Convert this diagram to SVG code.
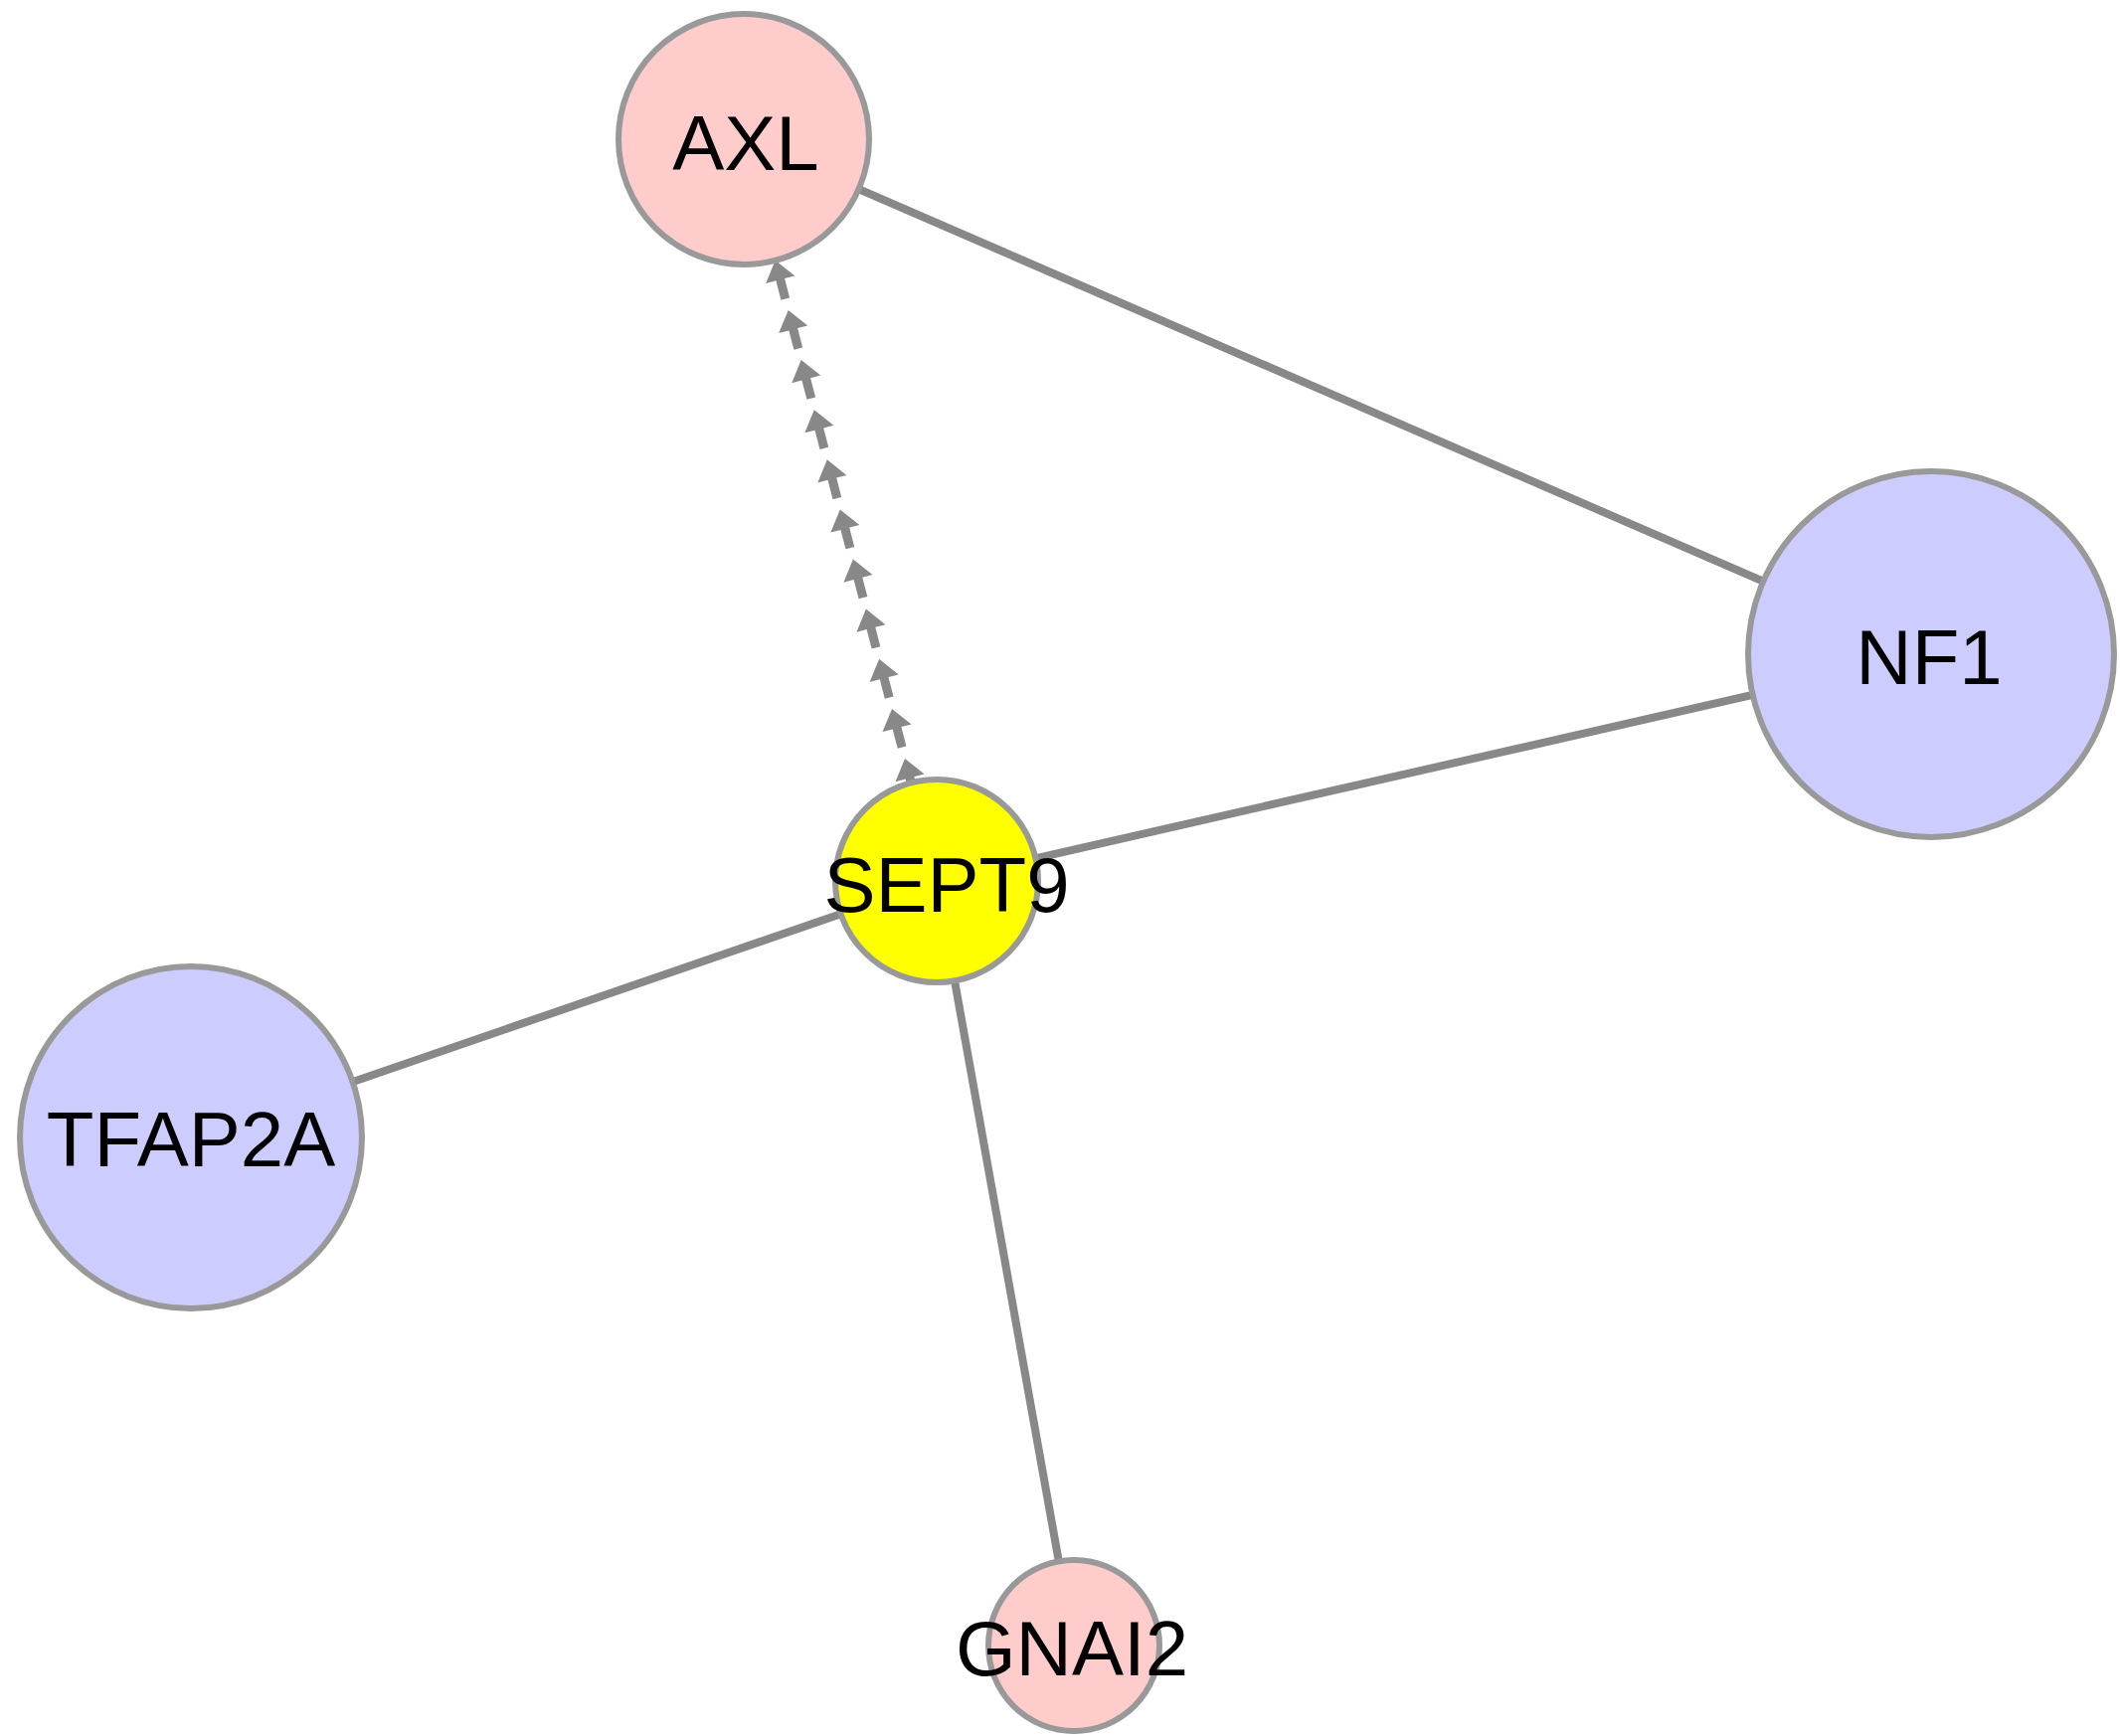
<svg xmlns="http://www.w3.org/2000/svg" xmlns:xlink="http://www.w3.org/1999/xlink" width="2132" height="1746" viewBox="0 0 2132 1746">
  <style>
    .edge { stroke: #888888; stroke-width: 8; fill: none; }
    .node circle { stroke: #999999; stroke-width: 6; }
    .red { fill: #FFCCCC; }
    .blue { fill: #CCCCFF; }
    .yellow { fill: #FFFF00; }
    .label { font-family: "Liberation Sans", Arial, Helvetica, sans-serif; font-size: 78px; fill: #000000; text-anchor: middle; }
    .arrowunit { fill: #888888; }
  </style>
  <defs>
    <path id="unit" class="arrowunit" d="M0,0 L15,20 L4.5,20 L4.5,40 L-4.5,40 L-4.5,20 L-15,20 Z"/>
  </defs>
  <rect x="0" y="0" width="2132" height="1746" fill="#FFFFFF"/>
  <g id="edges">
    <line class="edge" x1="748" y1="140" x2="1942" y2="658"/>
    <line class="edge" x1="942" y1="886" x2="1942" y2="658"/>
    <line class="edge" x1="942" y1="886" x2="192" y2="1144"/>
    <line class="edge" x1="942" y1="886" x2="1080" y2="1655"/>
    <g id="edge-SEPT9-AXL">
      <use xlink:href="#unit" transform="translate(910,763) rotate(-14.57)"/>
      <use xlink:href="#unit" transform="translate(897,712.9) rotate(-14.57)"/>
      <use xlink:href="#unit" transform="translate(884.1,662.8) rotate(-14.57)"/>
      <use xlink:href="#unit" transform="translate(870.9,612.6) rotate(-14.57)"/>
      <use xlink:href="#unit" transform="translate(857.9,562.5) rotate(-14.57)"/>
      <use xlink:href="#unit" transform="translate(844.8,512.4) rotate(-14.57)"/>
      <use xlink:href="#unit" transform="translate(831.8,462.3) rotate(-14.57)"/>
      <use xlink:href="#unit" transform="translate(818.8,412.2) rotate(-14.57)"/>
      <use xlink:href="#unit" transform="translate(805.7,362.0) rotate(-14.57)"/>
      <use xlink:href="#unit" transform="translate(792.7,311.9) rotate(-14.57)"/>
      <use xlink:href="#unit" transform="translate(779.7,261.8) rotate(-14.57)"/>
    </g>
  </g>
  <g id="node-AXL" class="node">
    <circle class="red" cx="748" cy="140" r="126"/>
    <text class="label" x="750" y="171">AXL</text>
  </g>
  <g id="node-NF1" class="node">
    <circle class="blue" cx="1942" cy="658" r="184"/>
    <text class="label" x="1940" y="688">NF1</text>
  </g>
  <g id="node-SEPT9" class="node">
    <circle class="yellow" cx="942" cy="886" r="102"/>
    <text class="label" x="952" y="917">SEPT9</text>
  </g>
  <g id="node-TFAP2A" class="node">
    <circle class="blue" cx="192" cy="1144" r="172"/>
    <text class="label" x="192" y="1173">TFAP2A</text>
  </g>
  <g id="node-GNAI2" class="node">
    <circle class="red" cx="1080" cy="1655" r="86"/>
    <text class="label" x="1078" y="1685">GNAI2</text>
  </g>
</svg>
